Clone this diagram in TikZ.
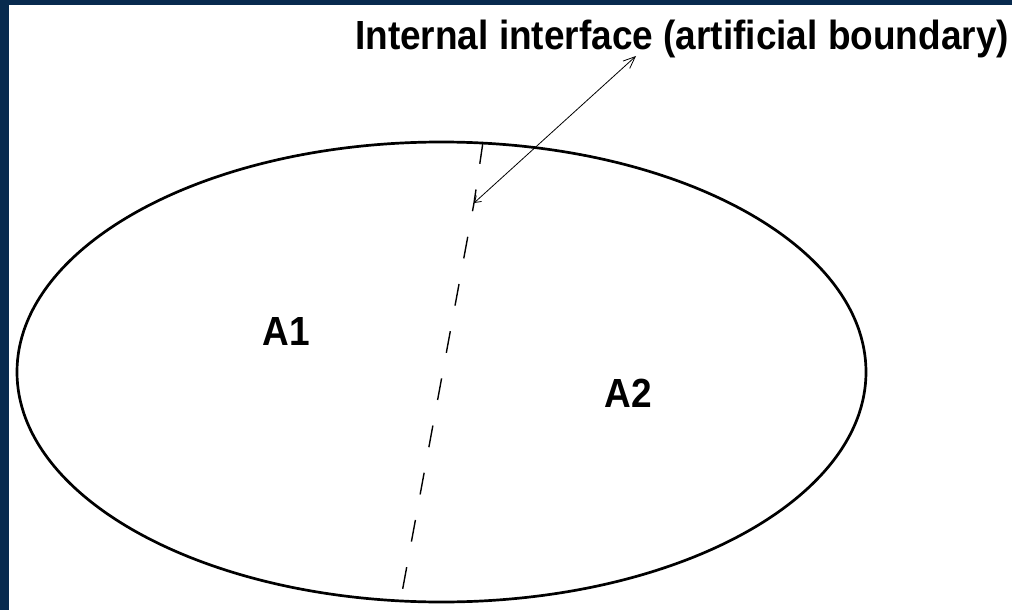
\documentclass[tikz,border=0pt]{standalone}
\usepackage{fontspec}
\setmainfont{Liberation Sans}
\usetikzlibrary{arrows.meta,shapes.geometric}
\definecolor{slideblue}{RGB}{8,42,78}
\newcommand{\tallbold}[1]{\scalebox{1}[1.1]{#1}}
\begin{document}
\begin{tikzpicture}[x=1pt,y=-1pt,
  lbl/.style={font=\fontsize{37}{40}\selectfont\bfseries, inner sep=0pt},
  boundary/.style={line width=2.7pt},
  iface/.style={line width=1.4pt, dash pattern=on 22pt off 26pt},
  pointer/.style={line width=0.8pt, {Straight Barb[length=6pt,width=8pt]}-{Straight Barb[length=12pt,width=10pt]}}]
  \useasboundingbox (0,0) rectangle (1012,610);
  \fill[slideblue] (0,0) rectangle (1012,610);
  \fill[white] (9,5) rectangle (1012,610);
  \node[draw, boundary, ellipse, minimum width=849pt, minimum height=460pt, inner sep=0pt] (domain) at (441.5,372) {};
  \node[lbl, anchor=base west] (title) at (355,49) {\tallbold{Internal interface (artificial boundary)}};
  \node[lbl, anchor=base] (a1) at (286,345) {\tallbold{A1}};
  \node[lbl, anchor=base] (a2) at (628,407) {\tallbold{A2}};
  \coordinate (itop) at (483,142);
  \coordinate (ibend) at (474,203);
  \coordinate (ibot) at (401,598);
  \coordinate (ptip) at (636,56);
  \draw[iface] (itop) -- (ibend) -- (ibot);
  \draw[pointer] (ibend) -- (ptip);
\end{tikzpicture}
\end{document}
